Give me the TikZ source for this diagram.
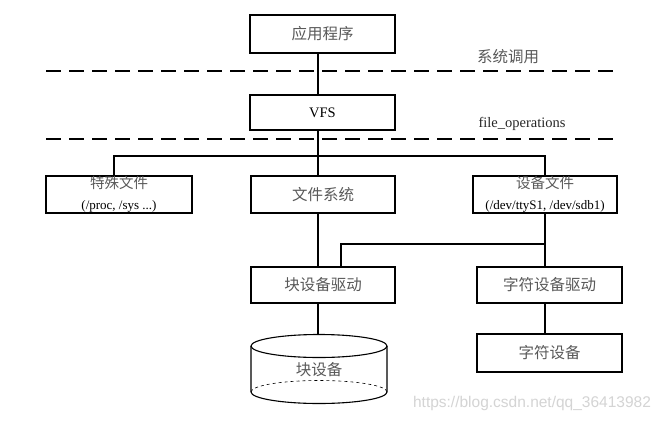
\documentclass[tikz,border=0pt]{standalone}
\usepackage{fontspec}
\setmainfont{Liberation Serif}
\newfontfamily\cjk{Noto Sans CJK SC}
\newfontfamily\wmfont{Liberation Sans}

\begin{document}
\begin{tikzpicture}[x=1pt, y=-1pt,
    box/.style={draw, line width=1.1pt, minimum width=145pt, minimum height=37pt, inner sep=0pt, align=center, font=\fontsize{14.5}{21}\selectfont},
    zh/.style={text=black!65, font=\cjk\fontsize{15.5}{21}\selectfont},
    link/.style={line width=1.1pt},
    layer/.style={line width=1.1pt, dash pattern=on 15pt off 8pt}]
            \path[fill=white, use as bounding box] (0,0) rectangle (663,420);

            % boxes
            \node[box, zh, minimum height=38pt] (app) at (322.5,34) {应用程序};
            \node[box, minimum height=35pt] (vfs) at (322.5,112.5) {VFS};
            \node[box, minimum width=146pt] (special) at (119,194.5) {{\cjk\color{black!65}特殊文件}\\{\fontsize{13}{15}\selectfont(/proc, /sys ...)}};
            \node[box, zh, minimum width=144pt] (fs) at (323,194.5) {文件系统};
            \node[box, minimum width=144pt] (devfile) at (545,194.5) {{\cjk\color{black!65}设备文件}\\{\fontsize{13}{15}\selectfont(/dev/ttyS1, /dev/sdb1)}};
            \node[box, zh, minimum width=144pt, minimum height=36pt] (blkdrv) at (323,285) {块设备驱动};
            \node[box, zh, minimum height=36pt] (chrdrv) at (549.5,285) {字符设备驱动};
            \node[box, zh, minimum height=38pt] (chrdev) at (549.5,353) {字符设备};

            % block device (cylinder)
            \draw[link] (319,346) ellipse[x radius=68, y radius=11.5];
            \draw[link] (251,346) -- (251,392) arc[start angle=180, end angle=0, x radius=68, y radius=11.5] -- (387,346);
            \draw[line width=0.6pt, dashed] (251,392) arc[start angle=180, end angle=360, x radius=68, y radius=11.5];
            \node[zh] (blkdev) at (319,370) {块设备};
            \coordinate (blktop) at (318,334.5);

            % layers
            \coordinate (left) at (46,0);
            \coordinate (right) at (613,0);
            \draw[layer] (left |- 0,71) -- (right |- 0,71);
            \draw[layer] (left |- 0,139) -- (right |- 0,139);
            \node[zh] (syscall) at (508,57) {系统调用};
            \node[font=\fontsize{14.5}{17}\selectfont, text=black!85] (fops) at (522,124) {file\_operations};

            % connectors
            \coordinate (trunk) at (318,0);
            \coordinate (bus) at (0,156);
            \coordinate (spdrop) at (114,0);
            \coordinate (split) at (341,244);
            \draw[link] (app.south -| trunk) -- (vfs.north -| trunk);
            \draw[link] (vfs.south -| trunk) -- (fs.north -| trunk);
            \draw[link] (special.north -| spdrop) -- (spdrop |- bus) -- (devfile.north |- bus) -- (devfile.north);
            \draw[link] (fs.south -| trunk) -- (blkdrv.north -| trunk);
            \draw[link] (devfile.south) -- (chrdrv.north -| devfile);
            \draw[link] (devfile.south |- split) -- (split) -- (blkdrv.north -| split);
            \draw[link] (blkdrv.south -| trunk) -- (blktop);
            \draw[link] (chrdrv.south -| devfile) -- (chrdev.north -| devfile);

            \node[text=black!17, font=\wmfont\fontsize{15.5}{18}\selectfont] (mark) at (532,403) {https://blog.csdn.net/qq\_36413982};
        \end{tikzpicture}
\end{document}
